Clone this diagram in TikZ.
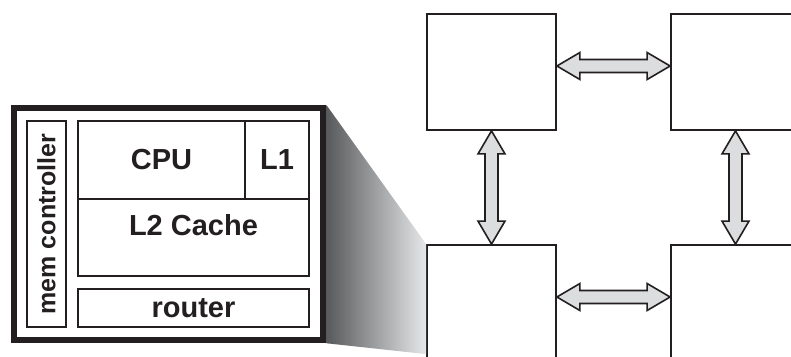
\documentclass[tikz,border=0pt]{standalone}
\usepackage{fontspec}
\setmainfont{Liberation Sans}
\usetikzlibrary{calc}

\definecolor{ink}{RGB}{35,31,32}
\definecolor{linkgray}{RGB}{220,221,222}
\definecolor{shadedark}{RGB}{88,89,91}
\definecolor{shadelight}{RGB}{230,231,232}

\tikzset{
  tile/.style={shape=rectangle,draw=ink,line width=1.8pt,fill=white,
    minimum width=129pt,minimum height=116pt,inner sep=0pt},
  cell/.style={shape=rectangle,draw=ink,line width=1.4pt,inner sep=0pt,
    text=ink,font=\fontsize{29}{34}\selectfont\bfseries},
  % fat two-headed link between two points
  fat link/.style={draw=ink,line width=1.6pt,fill=linkgray,
    to path={let \p1=(\tikztostart), \p2=(\tikztotarget),
      \n1={veclen(\x2-\x1,\y2-\y1)}, \n2={atan2(\y2-\y1,\x2-\x1)} in
      {[shift={(\p1)},rotate=\n2] (0,0) -- (23,13.5) -- (23,6.5)
        -- (\n1-23,6.5) -- (\n1-23,13.5) -- (\n1,0) -- (\n1-23,-13.5)
        -- (\n1-23,-6.5) -- (23,-6.5) -- (23,-13.5) -- cycle}}}
}

\begin{document}
\begin{tikzpicture}[x=1pt,y=-1pt]
\clip (0,0) rectangle (791,356);
\fill [white] (0,0) rectangle (791,356);

% 2x2 mesh
\path (491.5,72) node (tl) [tile] {};
\path (735.5,72) node (tr) [tile] {};
\path (491.5,303) node (bl) [tile] {};
\path (735.5,303) node (br) [tile] {};

\draw [fat link] ([yshift=6pt]tl.east) to ([yshift=6pt]tr.west);
\draw [fat link] ([yshift=6pt]bl.east) to ([yshift=6pt]br.west);
\draw [fat link] (tl.south) to (bl.north);
\draw [fat link] (tr.south) to (br.north);

% blown-up tile
\path (168.5,224) node (zoom) [shape=rectangle,draw=ink,line width=6.5pt,
  minimum width=309pt,minimum height=232pt] {};
\shade [left color=shadedark,right color=shadelight]
  (zoom.north east) -- (bl.north west) -- ([yshift=-110pt]bl.north west)
  -- (zoom.south east) -- cycle;

\path (46.5,224) node (mem) [cell,rotate=90,minimum width=206pt,minimum height=39pt,
  font=\fontsize{25}{30}\selectfont\bfseries] {mem controller};
\path (161.5,160) node (cpu) [cell,minimum width=167pt,minimum height=78pt] {CPU};
\path (277,160) node (l1) [cell,minimum width=64pt,minimum height=78pt] {L1};
\path (193.5,237.5) node (l2) [cell,minimum width=231pt,minimum height=77pt,
  text depth=25pt] {L2 Cache};
\path (193.5,308) node (router) [cell,minimum width=231pt,minimum height=38pt] {router};
\end{tikzpicture}
\end{document}
